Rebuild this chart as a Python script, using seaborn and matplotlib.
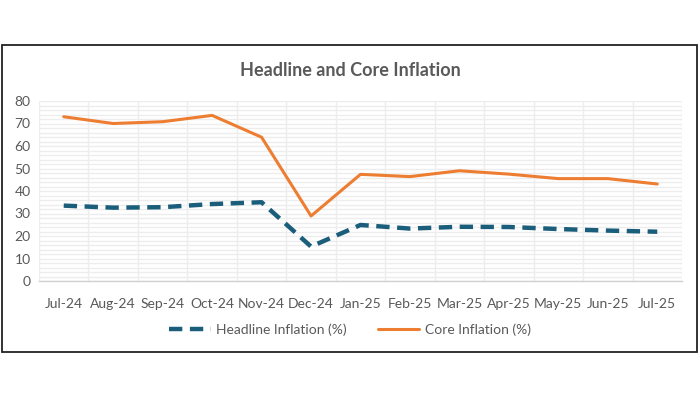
import pandas as pd
import numpy as np
import seaborn as sns
import matplotlib.pyplot as plt
from matplotlib.patches import Rectangle
from matplotlib.ticker import MultipleLocator, FixedLocator

# data
months = ["Jul-24", "Aug-24", "Sep-24", "Oct-24", "Nov-24", "Dec-24", "Jan-25",
          "Feb-25", "Mar-25", "Apr-25", "May-25", "Jun-25", "Jul-25"]
headline = [33.5, 32.6, 32.8, 34.2, 35.0, 15.3, 24.9, 23.3, 24.1, 24.0, 23.1, 22.4, 21.9]
core = [73.0, 70.0, 70.8, 73.6, 63.9, 28.9, 47.4, 46.4, 49.0, 47.5, 45.5, 45.5, 43.1]

h_name = "Headline Inflation (%)"
c_name = "Core Inflation (%)"

df = pd.DataFrame({"month": months * 2,
                   "value": headline + core,
                   "series": [h_name] * len(months) + [c_name] * len(months)})

sns.set_style("white")
plt.rcParams["font.family"] = ["Lato", "DejaVu Sans"]

txt = "#595959"
grid = "#ededed"

fig = plt.figure(figsize=(7, 4), dpi=100)
ax = fig.add_axes([39 / 700, 1 - 281 / 400, 643 / 700, 180 / 400])

sns.lineplot(data=df, x="month", y="value", hue="series", style="series",
             palette={h_name: "#1B5E7B", c_name: "#ED7D31"},
             dashes={h_name: (3, 1.7), c_name: ""},
             sort=False, ax=ax, legend=False)
lines = ax.get_lines()
lines[0].set_linewidth(3.2)
lines[1].set_linewidth(2.2)
lines[0].set_zorder(3)
lines[1].set_zorder(4)

ax.set_xlim(-0.5, len(months) - 0.5)
ax.set_ylim(0, 80)
ax.yaxis.set_major_locator(MultipleLocator(10))
ax.yaxis.set_minor_locator(MultipleLocator(2))
ax.xaxis.set_minor_locator(FixedLocator(np.arange(-0.5, len(months), 1)))
ax.grid(which="minor", axis="both", color=grid, linewidth=1.0)
ax.grid(which="major", axis="y", color=grid, linewidth=1.0)
ax.set_axisbelow(True)

for s in ["top", "right", "left"]:
    ax.spines[s].set_visible(False)
ax.spines["bottom"].set_color("#d0d0d0")
ax.spines["bottom"].set_linewidth(1.0)

ax.tick_params(axis="x", which="major", length=0, pad=12, labelsize=10, labelcolor=txt)
ax.tick_params(axis="x", which="minor", length=5, color="#d0d0d0", direction="out")
ax.tick_params(axis="y", which="both", length=0, pad=6, labelsize=10, labelcolor=txt)
ax.set_xlabel("")
ax.set_ylabel("")

fig.text(0.5, 1 - 70 / 400, "Headline and Core Inflation", ha="center", va="center",
         fontsize=13, fontweight="bold", color=txt)

handles = [plt.Line2D([], [], color="#1B5E7B", lw=3.2, dashes=(3, 1.7)),
           plt.Line2D([], [], color="#ED7D31", lw=2.2)]
fig.legend(handles, [h_name, c_name], loc="center", bbox_to_anchor=(0.5, 1 - 330 / 400),
           ncol=2, frameon=False, fontsize=10, handlelength=3.0, columnspacing=2.2,
           handletextpad=0.4, labelcolor=txt)

fig.patches.append(Rectangle((2 / 700, 48 / 400), 695 / 700, 307 / 400,
                             transform=fig.transFigure, fill=False,
                             edgecolor="#222222", linewidth=1.3))

fig.savefig("out.png", dpi=100)
